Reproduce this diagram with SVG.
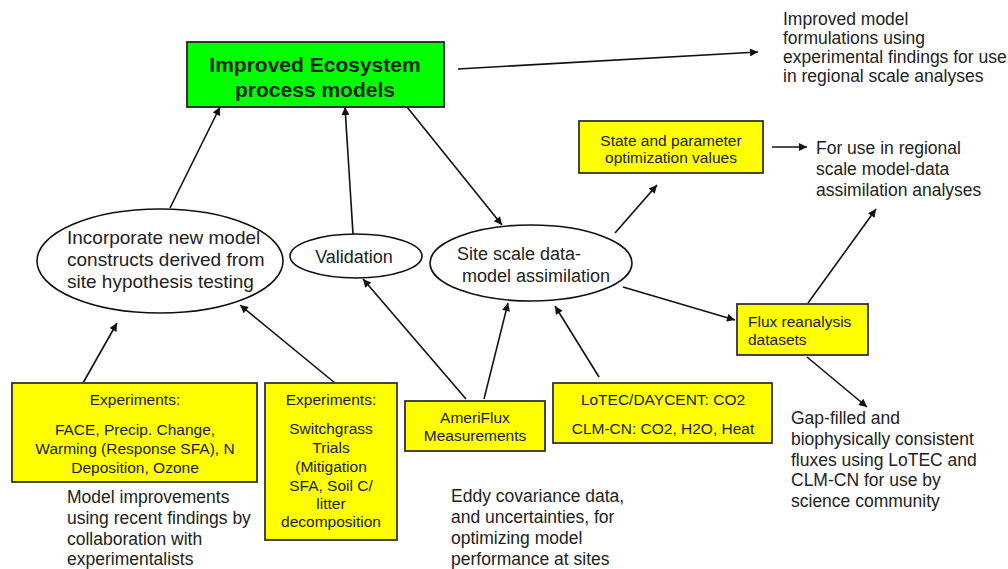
<svg xmlns="http://www.w3.org/2000/svg" width="1008" height="569" viewBox="0 0 1008 569">
<defs>
<marker id="ah" viewBox="0 0 10 10" refX="10" refY="5" markerWidth="10" markerHeight="8" markerUnits="userSpaceOnUse" orient="auto"><path d="M0,0 L10,5 L0,10 z" fill="#111"/></marker>
<style>
text{font-family:"Liberation Sans",Arial,sans-serif;fill:#222}
.box{fill:#ffff00;stroke:#333;stroke-width:1.8}
.ell{fill:#fff;stroke:#111;stroke-width:1.6}
.bt{font-size:15.5px;text-anchor:middle}
.ft{font-size:17.5px}
.et{font-size:19px}
.st{font-size:18px}
.conn line{stroke:#111;stroke-width:1.6;marker-end:url(#ah)}
</style>
</defs>
<rect width="1008" height="569" fill="#fff"/>

<g id="connectors" class="conn">
<line x1="458" y1="69" x2="758" y2="52"/>
<line x1="170" y1="208" x2="220" y2="107"/>
<line x1="353" y1="234" x2="345" y2="107"/>
<line x1="407" y1="107" x2="502" y2="225"/>
<line x1="615" y1="233" x2="657" y2="185"/>
<line x1="772" y1="147" x2="807" y2="147"/>
<line x1="623" y1="287" x2="735" y2="320"/>
<line x1="808" y1="303" x2="876" y2="209"/>
<line x1="807" y1="357" x2="867" y2="407"/>
<line x1="83" y1="383" x2="117" y2="323"/>
<line x1="335" y1="383" x2="240" y2="305"/>
<line x1="466" y1="399" x2="363" y2="279"/>
<line x1="484" y1="399" x2="508" y2="303"/>
<line x1="599" y1="377" x2="555" y2="306"/>
</g>

<g id="green-box">
<rect x="187" y="42" width="257" height="65" fill="#00ff00" stroke="#222" stroke-width="1.8"/>
<text x="315" y="72" font-size="21" font-weight="bold" text-anchor="middle" style="fill:#122812">Improved Ecosystem</text>
<text x="315" y="97" font-size="21" font-weight="bold" text-anchor="middle" style="fill:#122812">process models</text>
</g>

<g id="note-improved">
<text class="ft" x="783" y="25">Improved model</text>
<text class="ft" x="783" y="44">formulations using</text>
<text class="ft" x="783" y="63">experimental findings for use</text>
<text class="ft" x="783" y="82">in regional scale analyses</text>
</g>

<g id="state-box">
<rect class="box" x="579" y="121" width="184" height="52"/>
<text class="bt" x="671" y="146">State and parameter</text>
<text class="bt" x="671" y="163">optimization values</text>
</g>

<g id="note-foruse">
<text class="ft" x="816" y="154">For use in regional</text>
<text class="ft" x="816" y="175">scale model-data</text>
<text class="ft" x="816" y="196">assimilation analyses</text>
</g>

<g id="ellipse-incorporate">
<ellipse class="ell" cx="160" cy="261" rx="123" ry="52"/>
<text class="et" x="67" y="244">Incorporate new model</text>
<text class="et" x="67" y="266">constructs derived from</text>
<text class="et" x="67" y="288">site hypothesis testing</text>
</g>

<g id="ellipse-validation">
<ellipse class="ell" cx="356" cy="256" rx="66" ry="22"/>
<text class="st" x="354" y="263" text-anchor="middle">Validation</text>
</g>

<g id="ellipse-site">
<ellipse class="ell" cx="531" cy="263" rx="101" ry="38"/>
<text class="st" x="457" y="260">Site scale data-</text>
<text class="st" x="462" y="282">model assimilation</text>
</g>

<g id="flux-box">
<rect class="box" x="737" y="304" width="131" height="51"/>
<text x="748" y="327" font-size="15.5">Flux reanalysis</text>
<text x="748" y="345" font-size="15.5">datasets</text>
</g>

<g id="exp1-box">
<rect class="box" x="12" y="383" width="245" height="99"/>
<text class="bt" x="135" y="405">Experiments:</text>
<text class="bt" x="135" y="435">FACE, Precip. Change,</text>
<text class="bt" x="135" y="454">Warming (Response SFA), N</text>
<text class="bt" x="135" y="473">Deposition, Ozone</text>
</g>

<g id="exp2-box">
<rect class="box" x="265" y="383" width="132" height="157"/>
<text class="bt" x="331" y="405">Experiments:</text>
<text class="bt" x="331" y="434">Switchgrass</text>
<text class="bt" x="331" y="453">Trials</text>
<text class="bt" x="331" y="472">(Mitigation</text>
<text class="bt" x="331" y="491">SFA, Soil C/</text>
<text class="bt" x="331" y="509">litter</text>
<text class="bt" x="331" y="527">decomposition</text>
</g>

<g id="ameriflux-box">
<rect class="box" x="405" y="401" width="140" height="50"/>
<text class="bt" x="475" y="423">AmeriFlux</text>
<text class="bt" x="475" y="441">Measurements</text>
</g>

<g id="lotec-box">
<rect class="box" x="553" y="383" width="219" height="60"/>
<text class="bt" x="663" y="405">LoTEC/DAYCENT: CO2</text>
<text class="bt" x="663" y="434">CLM-CN: CO2, H2O, Heat</text>
</g>

<g id="note-model-improvements">
<text class="ft" x="67" y="503">Model improvements</text>
<text class="ft" x="67" y="524">using recent findings by</text>
<text class="ft" x="67" y="545">collaboration with</text>
<text class="ft" x="67" y="565">experimentalists</text>
</g>

<g id="note-eddy">
<text class="ft" x="451" y="502">Eddy covariance data,</text>
<text class="ft" x="451" y="523">and uncertainties, for</text>
<text class="ft" x="451" y="544">optimizing model</text>
<text class="ft" x="451" y="565">performance at sites</text>
</g>

<g id="note-gapfilled">
<text class="ft" x="791" y="424">Gap-filled and</text>
<text class="ft" x="791" y="445">biophysically consistent</text>
<text class="ft" x="791" y="466">fluxes using LoTEC and</text>
<text class="ft" x="791" y="486">CLM-CN for use by</text>
<text class="ft" x="791" y="507">science community</text>
</g>
</svg>
